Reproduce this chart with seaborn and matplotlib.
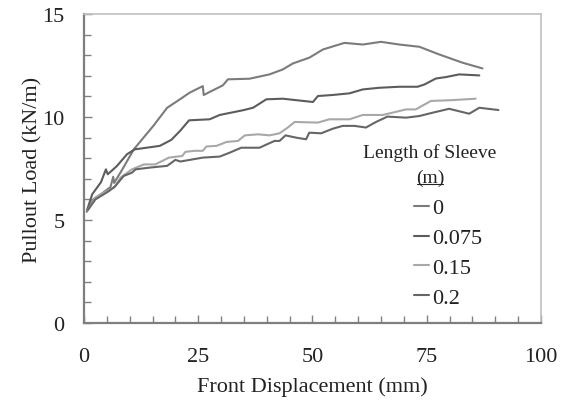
import numpy as np
import pandas as pd
import matplotlib
matplotlib.use("Agg")
import matplotlib.pyplot as plt
import seaborn as sns
from matplotlib.ticker import MultipleLocator
from matplotlib.lines import Line2D

# ---- data ----
sleeve_labels = ["0", "0.075", "0.15", "0.2"]

x_0 = [0.6, 2.0, 4.0, 5.8, 6.4, 6.6, 8.4, 10.9, 15.1, 17.0, 18.2, 21.0, 23.1, 26.0, 26.2,
       30.4, 31.5, 36.2, 40.6, 43.5, 45.7, 49.3, 52.3, 57.0, 61.0, 65.0, 69.0, 73.4,
       77.7, 82.8, 87.2]
y_0 = [5.4, 6.0, 6.3, 6.6, 7.1, 6.8, 7.46, 8.43, 9.55, 10.1, 10.45, 10.86, 11.18, 11.5, 11.07,
       11.54, 11.83, 11.86, 12.07, 12.31, 12.6, 12.88, 13.28, 13.6, 13.52, 13.65, 13.52, 13.41,
       13.04, 12.64, 12.36]

x_0075 = [0.7, 1.8, 3.7, 4.8, 5.2, 7.2, 9.4, 11.1, 16.6, 19.1, 21.0, 23.0, 27.5, 29.7, 34.8,
          37.0, 39.9, 43.5, 50.1, 51.2, 54.4, 58.1, 61.0, 64.6, 69.0, 73.0, 74.5, 77.0, 79.2,
          82.1, 86.5]
y_0075 = [5.5, 6.25, 6.83, 7.46, 7.22, 7.62, 8.19, 8.43, 8.6, 8.89, 9.32, 9.84, 9.89, 10.1, 10.33,
          10.45, 10.86, 10.89, 10.73, 11.02, 11.07, 11.15, 11.34, 11.42, 11.47, 11.47, 11.58,
          11.87, 11.94, 12.07, 12.02]

x_015 = [0.9, 2.5, 4.4, 6.6, 8.0, 10.5, 13.1, 15.6, 18.6, 21.5, 22.2, 24.2, 26.0, 26.8, 29.0,
         31.2, 33.7, 35.2, 38.1, 40.6, 42.8, 44.6, 46.1, 51.2, 53.7, 58.1, 61.0, 65.4, 70.5,
         72.6, 75.9, 80.6, 85.7]
y_015 = [5.5, 6.1, 6.33, 6.57, 7.06, 7.46, 7.7, 7.7, 8.03, 8.11, 8.31, 8.36, 8.36, 8.57, 8.6,
         8.79, 8.84, 9.11, 9.16, 9.11, 9.21, 9.49, 9.76, 9.73, 9.89, 9.89, 10.1, 10.1, 10.37,
         10.37, 10.78, 10.82, 10.89]

x_02 = [0.9, 2.5, 5.5, 6.9, 8.7, 10.5, 11.3, 14.6, 18.2, 20.0, 21.1, 26.0, 29.7, 31.9, 34.4,
        38.4, 41.7, 42.8, 44.1, 46.4, 48.6, 49.3, 51.9, 54.4, 56.6, 59.2, 61.7, 63.9, 66.4,
        70.5, 73.4, 76.3, 79.9, 84.3, 86.5, 90.7]
y_02 = [5.5, 6.0, 6.41, 6.66, 7.14, 7.3, 7.46, 7.55, 7.63, 7.92, 7.84, 8.03, 8.08, 8.27, 8.51,
        8.51, 8.84, 8.84, 9.11, 9.0, 8.92, 9.24, 9.21, 9.43, 9.57, 9.57, 9.49, 9.76, 10.02,
        9.97, 10.05, 10.21, 10.4, 10.16, 10.45, 10.34]

x_ticks = [0, 25, 50, 75, 100]
y_ticks = [0, 5, 10, 15]

series_x = [x_0, x_0075, x_015, x_02]
series_y = [y_0, y_0075, y_015, y_02]
frames = []
for lab, xs, ys in zip(sleeve_labels, series_x, series_y):
    frames.append(pd.DataFrame({"disp": xs, "load": ys, "sleeve": lab}))
df = pd.concat(frames, ignore_index=True)

colors = {"0": "#7b7b7b", "0.075": "#5c5c5c", "0.15": "#a8a8a8", "0.2": "#666666"}

# ---- figure ----
sns.set_theme(style="white")
plt.rcParams["font.family"] = ["Liberation Serif", "DejaVu Serif"]

fig = plt.figure(figsize=(5.61, 4.02), dpi=100)
ax = fig.add_axes([0.1497, 0.194, 0.8146, 0.7686])

sns.lineplot(data=df, x="disp", y="load", hue="sleeve", hue_order=sleeve_labels,
             palette=colors, sort=False, estimator=None, units="sleeve",
             linewidth=1.5, ax=ax, legend=False)

ax.set_xlim(0, 100)
ax.set_ylim(0, 15)
ax.set_xticks(x_ticks)
ax.set_yticks(y_ticks)
ax.xaxis.set_minor_locator(MultipleLocator(5))
ax.yaxis.set_minor_locator(MultipleLocator(1))
ax.tick_params(which="both", direction="in", color="#808080", width=1.0,
               labelsize=16, labelcolor="#222222")
ax.tick_params(which="major", length=6)
ax.tick_params(which="minor", length=5)
ax.tick_params(axis="y", which="both", left=True, pad=14)
ax.tick_params(axis="x", which="both", bottom=True, pad=17)

ax.set_xlabel("Front Displacement (mm)", fontsize=16, color="#222222", labelpad=8)
ax.set_ylabel("Pullout Load (kN/m)", fontsize=16, color="#222222", labelpad=0)

for side in ["left", "bottom"]:
    ax.spines[side].set_color("#7f7f7f")
    ax.spines[side].set_linewidth(1.6)
for side in ["top", "right"]:
    ax.spines[side].set_color("#c0c0c0")
    ax.spines[side].set_linewidth(1.2)

# ---- legend ----
handles = [Line2D([0], [0], color=colors[s], linewidth=1.5) for s in sleeve_labels]
leg = ax.legend(handles, sleeve_labels, loc="upper left", bbox_to_anchor=(0.722, 0.405),
                frameon=False, fontsize=16, handlelength=0.7, handletextpad=0.1,
                labelspacing=0.42, borderaxespad=0, borderpad=0)
for t in leg.get_texts():
    t.set_color("#222222")

t1 = ax.text(0.757, 0.553, "Length of Sleeve", transform=ax.transAxes, ha="center",
             va="center", fontsize=14, color="#222222")
t2 = ax.text(0.757, 0.472, "(m)", transform=ax.transAxes, ha="center", va="center",
             fontsize=14, color="#222222")
fig.canvas.draw()
bb = t2.get_window_extent()
inv = fig.transFigure.inverted()
(x0, y0), (x1, y1) = inv.transform([[bb.x0 + 1, bb.y0 + 1.5], [bb.x1 - 1, bb.y0 + 1.5]])
fig.add_artist(Line2D([x0, x1], [y0, y1], color="#222222", linewidth=0.8,
                      transform=fig.transFigure))

fig.savefig("out.png", dpi=100)
